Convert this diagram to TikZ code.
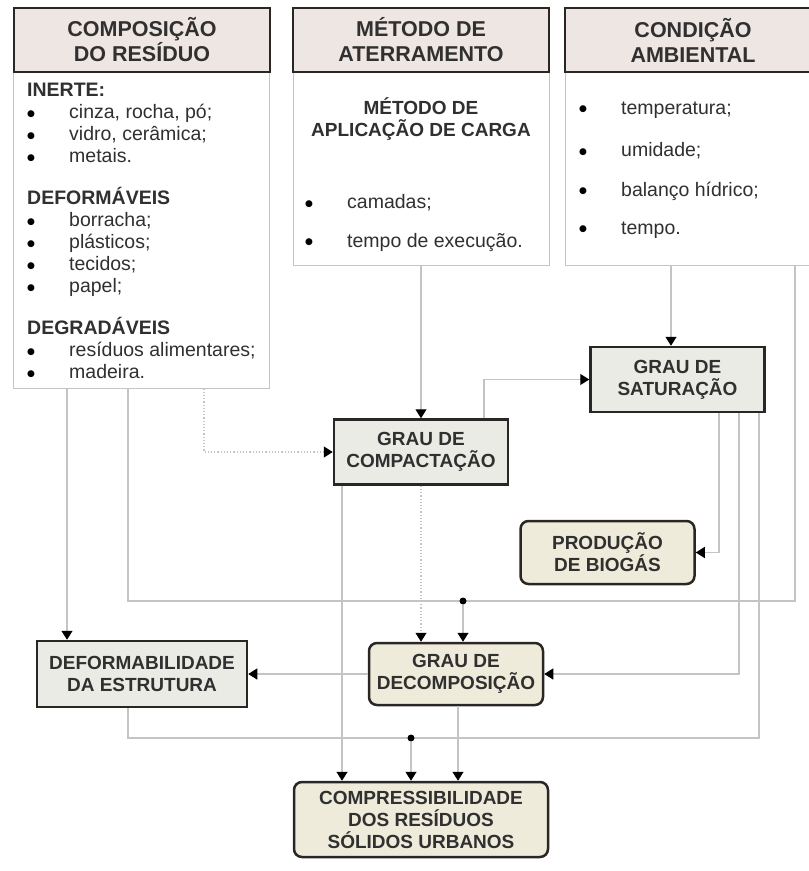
\documentclass[tikz,border=0pt]{standalone}
\usepackage{fontspec}
\setmainfont{Liberation Sans}
\newfontfamily\symfont{DejaVu Sans}
\usetikzlibrary{arrows.meta}

\definecolor{headfill}{HTML}{EEE6E3}
\definecolor{greyfill}{HTML}{EBEBE6}
\definecolor{beigefill}{HTML}{EFEBDA}
\definecolor{edgecol}{HTML}{2A2624}
\definecolor{wirecol}{HTML}{C4C4C4}
\definecolor{ink}{HTML}{303030}

\newcommand{\blt}{\makebox[42pt][l]{\raisebox{2.5pt}{\symfont\fontsize{9}{10}\selectfont\textcolor{black}{●}}}}

\begin{document}
\begin{tikzpicture}[x=1pt, y=-1pt,
    every node/.style={text=ink},
    head/.style={rectangle, draw=edgecol, line width=2.5pt, fill=headfill,
                 minimum width=256pt, minimum height=64pt, align=center,
                 font=\fontsize{21.5}{25}\selectfont\bfseries},
    body/.style={rectangle, draw=wirecol, line width=1pt, fill=white,
                 minimum width=256pt},
    fact/.style={rectangle, draw=edgecol, line width=2.5pt, fill=greyfill,
                 minimum width=174pt, minimum height=65pt, align=center,
                 font=\fontsize{19}{22}\selectfont\bfseries},
    result/.style={fact, fill=beigefill, rounded corners=8pt},
    entry/.style={anchor=west, inner sep=0pt, font=\fontsize{19.5}{22}\selectfont},
    link/.style={draw=wirecol, line width=1.2pt},
    arrow/.style={link, -{Triangle[length=9pt, width=11pt, color=black]}},
    dotarrow/.style={arrow, dotted},
    joint/.style={circle, fill=black, inner sep=0pt, minimum size=7pt}
  ]
  \useasboundingbox (0,0) rectangle (809,871);
  \clip (0,0) rectangle (809,871);

  % Top row: list boxes
  \node[body, minimum height=316pt] (bcomp) at (141,230) {};
  \node[body, minimum height=193pt] (bmet) at (421,168.5) {};
  \node[body, minimum height=193pt] (bcond) at (693,168.5) {};

  \node[head] (hcomp) at (142,40) {COMPOSIÇÃO\\DO RESÍDUO};
  \node[head] (hmet) at (421,40) {MÉTODO DE\\ATERRAMENTO};
  \node[head] (hcond) at (693,40) {CONDIÇÃO\\AMBIENTAL};

  \node[entry, align=left] (complist) at (27,231) {%
    \textbf{INERTE:}\\
    \blt cinza, rocha, pó;\\
    \blt vidro, cerâmica;\\
    \blt metais.\\[20pt]
    \textbf{DEFORMÁVEIS}\\
    \blt borracha;\\
    \blt plásticos;\\
    \blt tecidos;\\
    \blt papel;\\[20pt]
    \textbf{DEGRADÁVEIS}\\
    \blt resíduos alimentares;\\
    \blt madeira.};

  \node[align=center, font=\fontsize{19}{22}\selectfont\bfseries] (mettitle) at (421,119)
    {MÉTODO DE\\APLICAÇÃO DE CARGA};
  \node[entry] (camadas) at (305,203) {\blt camadas;};
  \node[entry] (execucao) at (305,242) {\blt tempo de execução.};

  \node[entry] (temperatura) at (579,110) {\blt temperatura;};
  \node[entry] (umidade) at (579,151) {\blt umidade;};
  \node[entry] (balanco) at (579,191) {\blt balanço hídrico;};
  \node[entry] (tempo) at (579,230) {\blt tempo.};

  % Factors and results
  \node[fact] (gcomp) at (421,452) {GRAU DE\\COMPACTAÇÃO};
  \node[fact] (gsat) at (677.5,379.5) {GRAU DE\\SATURAÇÃO};
  \node[result, minimum height=63pt] (biogas) at (607.5,552.5) {PRODUÇÃO\\DE BIOGÁS};
  \node[fact, minimum width=210pt, minimum height=66pt] (deform) at (142,674)
    {DEFORMABILIDADE\\DA ESTRUTURA};
  \node[result, minimum height=62pt] (gdecomp) at (456,674) {GRAU DE\\DECOMPOSIÇÃO};
  \node[result, minimum width=254pt, minimum height=75pt] (compress) at (421,819.5)
    {COMPRESSIBILIDADE\\DOS RESÍDUOS\\SÓLIDOS URBANOS};

  % Connections
  \draw[arrow] (bmet.south) -- (gcomp.north);
  \draw[dotarrow] ([xshift=63pt]bcomp.south) |- (gcomp.west);
  \draw[arrow] ([xshift=63pt]gcomp.north) |- (gsat.west);
  \draw[arrow] ([xshift=-22pt]bcond.south) -- ([xshift=-22pt]bcond.south |- gsat.north);
  \draw[arrow] ([xshift=-74pt]bcomp.south) -- ([xshift=-74pt]bcomp.south |- deform.north);

  \coordinate (loopa) at (128,601);
  \coordinate (loopb) at (795,601);
  \draw[link] (bcomp.south -| loopa) |- (loopb) -- (bcond.south -| loopb);
  \node[joint] (junca) at (463,601) {};
  \draw[arrow] (junca) -- (junca |- gdecomp.north);

  \draw[dotarrow] (gcomp.south) -- (gcomp.south |- gdecomp.north);
  \draw[arrow] ([xshift=-79pt]gcomp.south) -- ([xshift=-79pt]gcomp.south |- compress.north);
  \draw[arrow] ([xshift=41.5pt]gsat.south) |- (biogas.east);
  \draw[arrow] ([xshift=61.5pt]gsat.south) |- (gdecomp.east);

  \coordinate (loopc) at (128,738);
  \draw[link] ([xshift=81.5pt]gsat.south) |- (loopc) -- (deform.south -| loopc);
  \node[joint] (juncb) at (411,738) {};
  \draw[arrow] (juncb) -- (juncb |- compress.north);
  \draw[arrow] ([xshift=2pt]gdecomp.south) -- ([xshift=2pt]gdecomp.south |- compress.north);
  \draw[arrow] (gdecomp.west) -- (deform.east);

\end{tikzpicture}
\end{document}
